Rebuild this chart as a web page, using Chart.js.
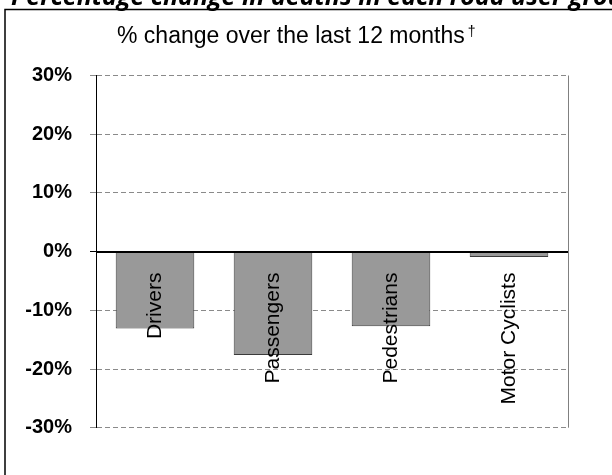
<!DOCTYPE html>
<html>
<head>
<meta charset="utf-8">
<script src="https://cdn.jsdelivr.net/npm/chart.js@4.4.0/dist/chart.umd.min.js"></script>
<style>
  html, body { margin: 0; padding: 0; background: #fff; }
  #wrap { position: relative; width: 612px; height: 475px; }
</style>
</head>
<body>
<div id="wrap"><canvas id="roadChart"></canvas></div>
<script>
// data
const categories = ['Drivers', 'Passengers', 'Pedestrians', 'Motor Cyclists'];
const changePct = [-13.1, -17.6, -12.7, -0.9];
const yMin = -30;
const yMax = 30;
const yStep = 10;

const headline = 'Percentage change in deaths in each road user group';
const subtitle = '% change over the last 12 months';
const subtitleMark = '\u2020';

const decor = {
  id: 'decor',
  beforeDraw(chart) {
    const ctx = chart.ctx;
    ctx.save();
    // clipped headline at the very top
    ctx.fillStyle = '#000';
    ctx.font = 'italic bold 25px "Open Sans"';
    ctx.textBaseline = 'alphabetic';
    ctx.fillText(headline, 11, 5);
    // outer frame (top + left)
    ctx.strokeStyle = '#000';
    ctx.lineWidth = 1.5;
    ctx.beginPath();
    ctx.moveTo(5, 475);
    ctx.lineTo(5, 9.5);
    ctx.lineTo(612, 9.5);
    ctx.stroke();
    // subtitle with dagger
    ctx.font = '23px "Liberation Sans"';
    ctx.fillText(subtitle, 117, 43);
    const w = ctx.measureText(subtitle).width;
    ctx.font = '14px "Liberation Sans"';
    ctx.fillText(subtitleMark, 117 + w + 3, 36);
    ctx.restore();
  },
  afterDatasetsDraw(chart) {
    const ctx = chart.ctx;
    const x = chart.scales.x;
    const y = chart.scales.y;
    const area = chart.chartArea;
    const y0 = y.getPixelForValue(0);
    ctx.save();
    // zero line
    ctx.strokeStyle = '#000';
    ctx.lineWidth = 1;
    ctx.beginPath();
    ctx.moveTo(area.left, Math.round(y0) + 0.5);
    ctx.lineTo(area.right, Math.round(y0) + 0.5);
    ctx.stroke();
    // right frame of plot
    ctx.strokeStyle = '#808080';
    ctx.beginPath();
    ctx.moveTo(Math.round(area.right) + 0.5, area.top);
    ctx.lineTo(Math.round(area.right) + 0.5, area.bottom);
    ctx.stroke();
    // rotated category labels hanging below the zero line
    ctx.fillStyle = '#000';
    ctx.font = '21px "Liberation Sans"';
    ctx.textAlign = 'right';
    ctx.textBaseline = 'middle';
    categories.forEach((c, i) => {
      ctx.save();
      ctx.translate(x.getPixelForValue(i), y0 + 21);
      ctx.rotate(-Math.PI / 2);
      ctx.fillText(c, 0, 0);
      ctx.restore();
    });
    ctx.restore();
  }
};

const chart = new Chart(document.getElementById('roadChart').getContext('2d'), {
  type: 'bar',
  data: {
    labels: categories,
    datasets: [{
      data: changePct,
      backgroundColor: '#999999',
      borderColor: '#3a3a3a',
      borderWidth: 1,
      borderSkipped: false,
      categoryPercentage: 1,
      barPercentage: 0.666
    }]
  },
  options: {
    responsive: true,
    maintainAspectRatio: false,
    animation: false,
    layout: { padding: { left: 0, top: 75.5, right: 44, bottom: 47.3 } },
    plugins: {
      legend: { display: false },
      tooltip: { enabled: false }
    },
    scales: {
      x: { display: false },
      y: {
        min: yMin,
        max: yMax,
        afterFit(scale) {
          scale.width = 96;
          scale.paddingTop = 0;
          scale.paddingBottom = 0;
        },
        ticks: {
          stepSize: yStep,
          padding: 18,
          color: '#000',
          font: { family: '"Liberation Sans"', size: 20, weight: 'bold' },
          callback: v => v + '%'
        },
        grid: {
          tickLength: 6,
          color: c => (c.tick && c.tick.value === 0) ? '#000' : '#8a8a8a',
          tickColor: c => (c.tick && c.tick.value === 0) ? '#000' : '#8a8a8a'
        },
        border: {
          display: true,
          color: '#000',
          width: 1,
          dash: c => (c.tick && c.tick.value === 0) ? [] : [5, 3]
        }
      }
    }
  },
  plugins: [decor]
});
</script>
</body>
</html>
